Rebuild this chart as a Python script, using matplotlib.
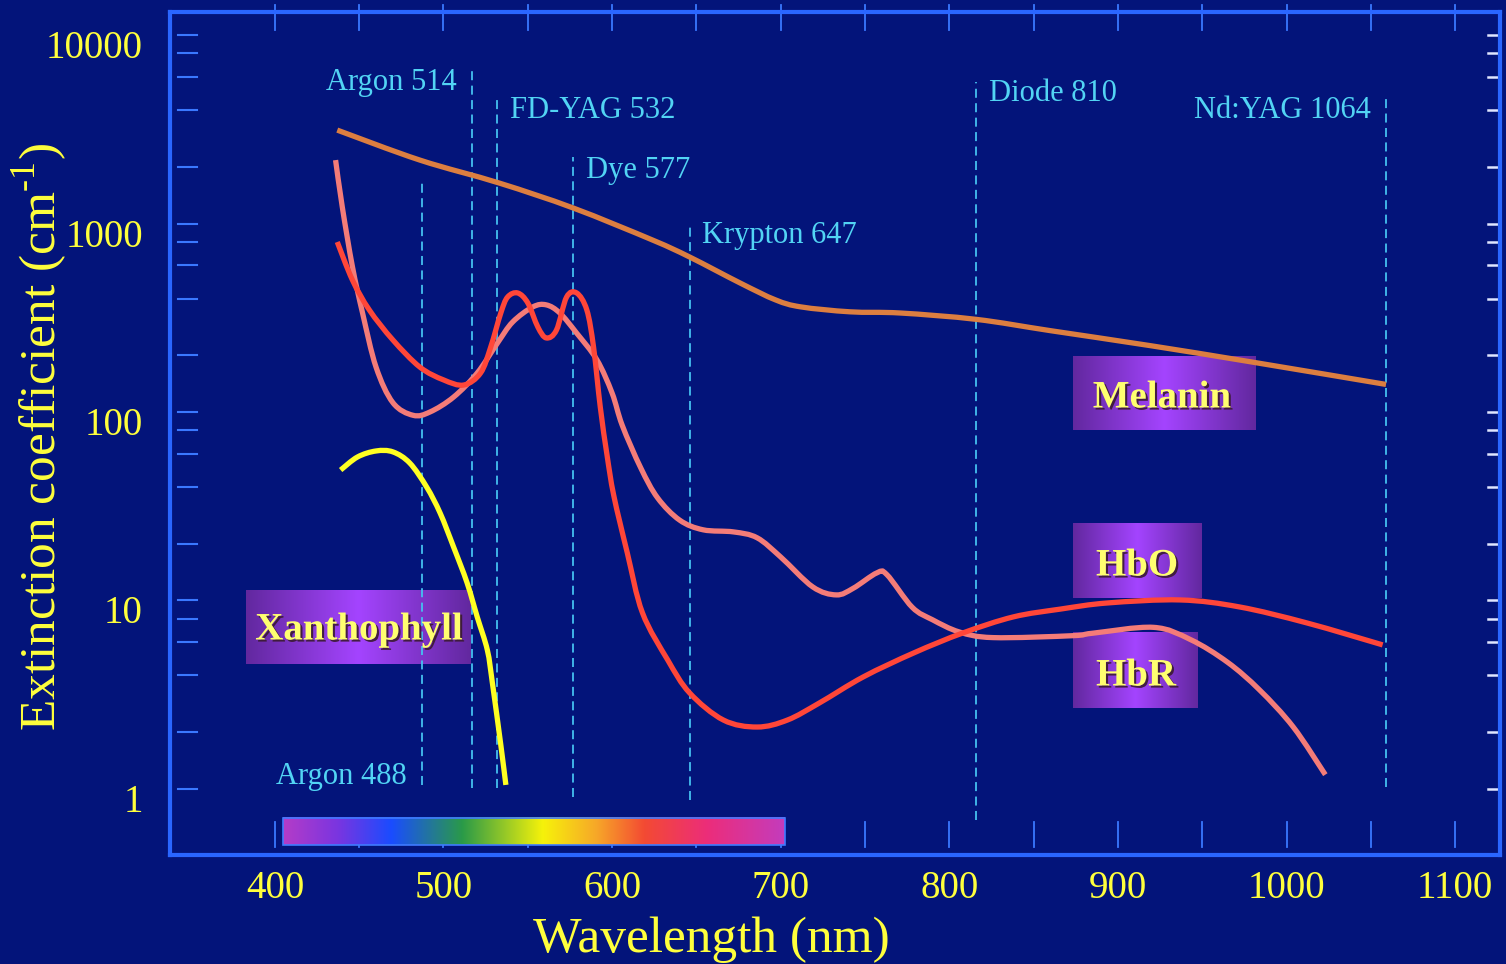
import numpy as np
import matplotlib
matplotlib.use("Agg")
import matplotlib.pyplot as plt
import matplotlib.patheffects as pe
from matplotlib.colors import LinearSegmentedColormap
from matplotlib.ticker import NullLocator
from matplotlib.transforms import ScaledTranslation
from matplotlib.path import Path
from matplotlib.patches import PathPatch, Rectangle

# ---------------- data ----------------
melanin_wl = [437, 486, 533, 577, 624, 646, 676, 697, 712, 741, 771, 816, 860, 919, 978, 1059]
melanin = [3130, 2170, 1640, 1208, 817, 664, 483, 393, 361, 340, 335, 310, 270, 225, 185, 140]

hbr_wl = [436, 440, 446, 452, 460, 470, 482, 492, 506, 520,
          532, 541, 553, 561, 569, 579, 591, 600, 606, 617,
          627, 640, 654, 672, 686, 700, 719, 733, 743, 757,
          763, 778, 790, 806, 826, 873, 885, 921, 943, 965,
          984, 1004, 1023]
hbr = [2170, 1220, 590, 335, 173, 112, 96, 100, 120, 161,
       232, 300, 361, 370, 335, 262, 189, 126, 85, 50.5,
       35, 26.7, 23.7, 23.1, 21.5, 17.0, 11.8, 10.7, 11.6, 14.0,
       13.7, 9.2, 7.9, 6.8, 6.35, 6.5, 6.7, 7.2, 6.2, 4.7,
       3.35, 2.13, 1.19]

hbo_wl = [437, 446, 456, 470, 486, 500, 512, 522, 528, 534,
          538, 544, 550, 556, 561, 567, 573, 579, 585, 589,
          593, 597, 601, 609, 618, 633, 646, 666, 686, 704,
          723, 749, 779, 808, 838, 866, 894, 937, 972, 1012,
          1057]
hbo = [798, 501, 348, 241, 173, 148, 139, 161, 221, 335,
       407, 428, 379, 282, 247, 272, 407, 428, 348, 221,
       106, 59, 36, 17.9, 8.6, 4.83, 3.23, 2.32, 2.13, 2.32,
       2.86, 3.93, 5.27, 6.72, 8.18, 9.0, 9.7, 10.06, 9.24, 7.6,
       5.81]

xan_wl = [439, 449, 460, 470, 480, 490, 498, 506, 514, 520, 526, 529, 534, 537]
xan = [49.2, 57.7, 62.1, 61.4, 53.6, 40, 29.1, 19.2, 12.4, 8.18, 5.46, 3.65, 1.71, 1.05]

laser_names = ["Argon 488", "Argon 514", "FD-YAG 532", "Dye 577",
               "Krypton 647", "Diode 810", "Nd:YAG 1064"]
laser_wl = [487, 517, 532, 577, 646, 816, 1059]
laser_top = [1640, 6520, 4630, 2250, 980, 5630, 4630]
laser_bottom = [1.05, 1.01, 1.01, 0.91, 0.87, 0.685, 1.02]
laser_label_y = [1.16, 5630, 4000, 1920, 860, 4920, 4000]
laser_label_side = ["left", "left", "right", "right", "right", "right", "left"]

x_ticks = [400, 500, 600, 700, 800, 900, 1000, 1100]
y_ticks = [1, 10, 100, 1000, 10000]
y_tick_labels = ["1", "10", "100", "1000", "10000"]

pigment_labels = ["Melanin", "HbO", "HbR", "Xanthophyll"]

# ---------------- style ----------------
W, H = 1506, 964
AX_L, AX_R, AX_T, AX_B = 170, 1500, 12, 855
BG = "#03147a"
SPINE = "#2a66ff"
TICK_BLUE = "#3a78ff"
YELLOW = "#ffff3c"
CYAN = "#52d4f4"
DASH = "#45c0f0"
C_MEL = "#dc7e40"
C_HBR = "#f47c78"
C_HBO = "#ff4638"
C_XAN = "#ffff22"

plt.rcParams["font.family"] = ["Liberation Serif", "DejaVu Serif"]
plt.rcParams["mathtext.fontset"] = "custom"
plt.rcParams["mathtext.rm"] = "Liberation Serif"


def axf(px, py):
    return (px - AX_L) / (AX_R - AX_L), (AX_B - py) / (AX_B - AX_T)


def smooth_curve(ax, xs, ys, **kw):
    """Draw a smooth Catmull-Rom (Bezier) curve through the given data points
    (smoothing done in wavelength / log10 space)."""
    x = np.asarray(xs, float)
    y = np.log10(np.asarray(ys, float))
    n = len(x)
    verts = [(x[0], y[0])]
    codes = [Path.MOVETO]
    for i in range(n - 1):
        i0 = max(i - 1, 0)
        i3 = min(i + 2, n - 1)
        c1 = (x[i] + (x[i + 1] - x[i0]) / 6.0, y[i] + (y[i + 1] - y[i0]) / 6.0)
        c2 = (x[i + 1] - (x[i3] - x[i]) / 6.0, y[i + 1] - (y[i3] - y[i]) / 6.0)
        verts += [c1, c2, (x[i + 1], y[i + 1])]
        codes += [Path.CURVE4] * 3
    verts = np.array(verts)
    verts[:, 1] = 10 ** verts[:, 1]
    patch = PathPatch(Path(verts, codes), facecolor="none", **kw)
    ax.add_patch(patch)
    return patch


fig = plt.figure(figsize=(W / 100, H / 100), dpi=100, facecolor=BG)
ax = fig.add_axes([AX_L / W, 1 - AX_B / H, (AX_R - AX_L) / W, (AX_B - AX_T) / H])
ax.set_facecolor(BG)
ax.set_yscale("log")
XLIM = (337.8, 1126.6)
YLIM = (0.446, 13250)

for s in ax.spines.values():
    s.set_color(SPINE)
    s.set_linewidth(3)

# --- label boxes with purple gradient ---
box_cmap = LinearSegmentedColormap.from_list("box", ["#62289f", "#a444ff", "#62289f"])
grad = np.linspace(0, 1, 256)[None, :]
boxes = [((1073, 356, 1256, 430), (1162, 398)),
         ((1073, 523, 1202, 598), (1137, 566)),
         ((1073, 632, 1198, 708), (1136, 676)),
         ((246, 590, 471, 664), (359, 630))]
for name, ((x0, y0, x1, y1), (tx, ty)) in zip(pigment_labels, boxes):
    a0, b0 = axf(x0, y1)
    a1, b1 = axf(x1, y0)
    ax.imshow(grad, cmap=box_cmap, aspect="auto", extent=(a0, a1, b0, b1),
              transform=ax.transAxes, zorder=1, interpolation="bilinear")
    cx, cy = axf(tx, ty)
    ax.text(cx, cy, name, transform=ax.transAxes, ha="center", va="center",
            fontsize=28, fontweight="bold", color="#ffff70", zorder=6,
            path_effects=[pe.withSimplePatchShadow(offset=(1.5, -1.5),
                                                   shadow_rgbFace="#3a1a30", alpha=0.9)])

# --- spectrum bar ---
spec_cmap = LinearSegmentedColormap.from_list(
    "spec",
    [(0.0, "#b43cc8"), (0.108, "#7a35e0"), (0.215, "#1a4cff"), (0.357, "#2a9a48"),
     (0.518, "#f6f20a"), (0.623, "#f7a928"), (0.721, "#f34a33"), (0.847, "#ec2d7a"),
     (1.0, "#c43cbc")])
sa0, sb0 = axf(283, 845)
sa1, sb1 = axf(785, 818)
ax.imshow(grad, cmap=spec_cmap, aspect="auto", extent=(sa0, sa1, sb0, sb1),
          transform=ax.transAxes, zorder=1.5, interpolation="bilinear")
ax.add_patch(Rectangle((sa0, sb0), sa1 - sa0, sb1 - sb0, transform=ax.transAxes,
                       facecolor="none", edgecolor="#3f7bff", lw=1.2, zorder=1.6))

# --- laser lines ---
for nm, wl, top, bot, ly, side in zip(laser_names, laser_wl, laser_top, laser_bottom,
                                      laser_label_y, laser_label_side):
    ax.plot([wl, wl], [bot, top], color=DASH, lw=1.3, dashes=(5, 3), zorder=2)
    dx = -9 if side == "left" else 7.5
    ax.text(wl + dx, ly, nm, ha="right" if side == "left" else "left", va="center",
            color=CYAN, fontsize=22, zorder=5)

# --- curves ---
lw = 3.8
common = dict(lw=lw, capstyle="butt", joinstyle="round")
smooth_curve(ax, melanin_wl, melanin, edgecolor=C_MEL, zorder=3, **common)
smooth_curve(ax, hbr_wl, hbr, edgecolor=C_HBR, zorder=3, **common)
smooth_curve(ax, hbo_wl, hbo, edgecolor=C_HBO, zorder=3.1, **common)
smooth_curve(ax, xan_wl, xan, edgecolor=C_XAN, zorder=3, **common)

# --- ticks ---
ax.set_xticks(x_ticks)
ax.set_xticklabels([str(v) for v in x_ticks])
ax.set_yticks(y_ticks)
ax.set_yticklabels(y_tick_labels)
ax.yaxis.set_minor_locator(NullLocator())
ax.xaxis.set_minor_locator(NullLocator())
ax.tick_params(axis="x", length=0, pad=11, labelsize=28, labelcolor=YELLOW, direction="in")
ax.tick_params(axis="y", length=0, pad=19.5, labelsize=28, labelcolor=YELLOW, direction="in")
for lab in ax.get_yticklabels():
    lab.set_transform(lab.get_transform() + ScaledTranslation(0, -0.09, fig.dpi_scale_trans))

xt = ax.get_xaxis_transform()
yt = ax.get_yaxis_transform()
_, bb0 = axf(0, 847)
_, bb1 = axf(0, 822)
_, tt0 = axf(0, 30)
_, tt1 = axf(0, 5)
for v in np.arange(400, 1101, 50):
    ax.plot([v, v], [bb0, bb1], transform=xt, color=TICK_BLUE, lw=1.3, clip_on=False, zorder=1)
    ax.plot([v, v], [tt0, tt1], transform=xt, color=TICK_BLUE, lw=1.3, clip_on=False, zorder=2)

la0, _ = axf(178, 0)
la1, _ = axf(197, 0)
ra0, _ = axf(1488, 0)
ra1, _ = axf(1500, 0)
for dec in [1, 10, 100, 1000]:
    for m in [1, 2, 4, 6, 8]:
        v = dec * m
        ax.plot([la0, la1], [v, v], transform=yt, color=TICK_BLUE, lw=1.5, zorder=2)
        ax.plot([ra0, ra1], [v, v], transform=yt, color="#e0e6ff", lw=1.8, zorder=2)
ax.plot([la0, la1], [10000, 10000], transform=yt, color=TICK_BLUE, lw=1.5, zorder=2)
ax.plot([ra0, ra1], [10000, 10000], transform=yt, color="#e0e6ff", lw=1.8, zorder=2)

ax.set_xlim(*XLIM)
ax.set_ylim(*YLIM)

# --- axis titles ---
fig.text(711 / W, 1 - 952 / H, "Wavelength (nm)", ha="center", va="baseline",
         color=YELLOW, fontsize=37)
fig.text(40 / W, 1 - 437 / H, r"Extinction coefficient (cm$^{\text{-}1}$)", rotation=90,
         ha="center", va="center", color=YELLOW, fontsize=37)

fig.savefig("out.png", dpi=100, facecolor=BG)
